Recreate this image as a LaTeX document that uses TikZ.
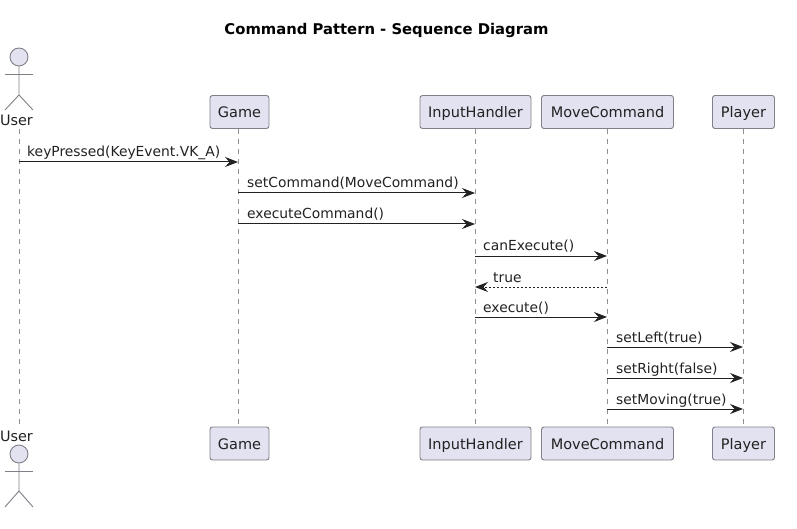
\documentclass[tikz,border=0pt]{standalone}
\usepackage{fontspec}
\setmainfont{DejaVu Sans}
\usetikzlibrary{arrows.meta,calc}
\definecolor{partfill}{HTML}{E2E2F0}
\definecolor{partline}{HTML}{808088}
\definecolor{lifeline}{HTML}{909090}
\definecolor{ink}{HTML}{222222}
\tikzset{
  x=1pt,y=-1pt,
  part/.style={draw=partline,fill=partfill,rounded corners=2.5pt,line width=0.9pt,minimum height=33pt,inner sep=0pt,font=\fontsize{14.5}{15}\selectfont,text=ink,text height=15pt,text depth=3pt},
  usertxt/.style={font=\fontsize{14.4}{15}\selectfont,text=ink,inner sep=0pt},
  life/.style={draw=lifeline,line width=0.8pt,dash pattern=on 5pt off 5pt},
  msg/.style={draw=ink,line width=1pt,-{Stealth[length=13pt,width=10pt,inset=4.5pt]}},
  ret/.style={msg,dash pattern=on 2pt off 2pt},
  lab/.style={font=\fontsize{13.85}{15}\selectfont,text=ink,inner sep=0pt,anchor=base west},
  stick/.style={draw=partline,line width=0.9pt},
  headc/.style={circle,draw=partline,fill=partfill,line width=0.9pt,minimum size=18pt,inner sep=0pt},
}
\newcommand{\mymsg}[6][msg]{% style, from, to, y, labelx, text
  \draw[#1] (#2 |- 0,#4) -- (#3 |- 0,#4);
  \node[lab] at (#5,#4-5) {#6};
}
\begin{document}
\begin{tikzpicture}
\useasboundingbox (0,0) rectangle (797,529);
\node[font=\bfseries\fontsize{14.8}{15}\selectfont,text=black,inner sep=0pt] (title) at (386.5,30) {Command Pattern - Sequence Diagram};

% participants
\node[part,minimum width=59pt] (gameT) at (239.5,112) {Game};
\node[part,minimum width=111pt] (inputT) at (475.5,112) {InputHandler};
\node[part,minimum width=132pt] (moveT) at (607.5,112) {MoveCommand};
\node[part,minimum width=62pt] (playerT) at (743.5,112) {Player};
\node[part,minimum width=59pt] (gameB) at (239.5,443.5) {Game};
\node[part,minimum width=111pt] (inputB) at (475.5,443.5) {InputHandler};
\node[part,minimum width=132pt] (moveB) at (607.5,443.5) {MoveCommand};
\node[part,minimum width=62pt] (playerB) at (743.5,443.5) {Player};

% actors
\node[usertxt] (userT) at (16.5,120.5) {User};
\node[usertxt] (userB) at (16.5,436) {User};
\node[headc] (headT) at (19,57) {};
\node[headc] (headB) at (19,454) {};
\coordinate (hipT) at (19,95);
\coordinate (hipB) at (19,491);
\draw[stick] (headT) -- (hipT) -- (5,110);
\draw[stick] (hipT) -- (33,110);
\draw[stick] (5,74) -- (33,74);
\draw[stick] (headB) -- (hipB) -- (5,507);
\draw[stick] (hipB) -- (33,507);
\draw[stick] (5,471) -- (33,471);

% lifelines
\coordinate (lifeU) at (19,129);
\coordinate (lifeUb) at (19,428);
\coordinate (lifeG) at (238,129);
\coordinate (lifeI) at (475,129);
\coordinate (lifeM) at (607,129);
\coordinate (lifeP) at (743,129);
\draw[life] (lifeU) -- (lifeUb);
\draw[life] (lifeG) -- (lifeG |- gameB.north);
\draw[life] (lifeI) -- (lifeI |- inputB.north);
\draw[life] (lifeM) -- (lifeM |- moveB.north);
\draw[life] (lifeP) -- (lifeP |- playerB.north);

% messages
\mymsg{lifeU}{lifeG}{162}{27}{keyPressed(KeyEvent.VK\_A)}
\mymsg{lifeG}{lifeI}{193}{247}{setCommand(MoveCommand)}
\mymsg{lifeG}{lifeI}{224}{247}{executeCommand()}
\mymsg{lifeI}{lifeM}{256}{483}{canExecute()}
\mymsg[ret]{lifeM}{lifeI}{287}{493}{true}
\mymsg{lifeI}{lifeM}{317}{483}{execute()}
\mymsg{lifeM}{lifeP}{347}{616}{setLeft(true)}
\mymsg{lifeM}{lifeP}{378}{616}{setRight(false)}
\mymsg{lifeM}{lifeP}{409}{616}{setMoving(true)}
\end{tikzpicture}
\end{document}
